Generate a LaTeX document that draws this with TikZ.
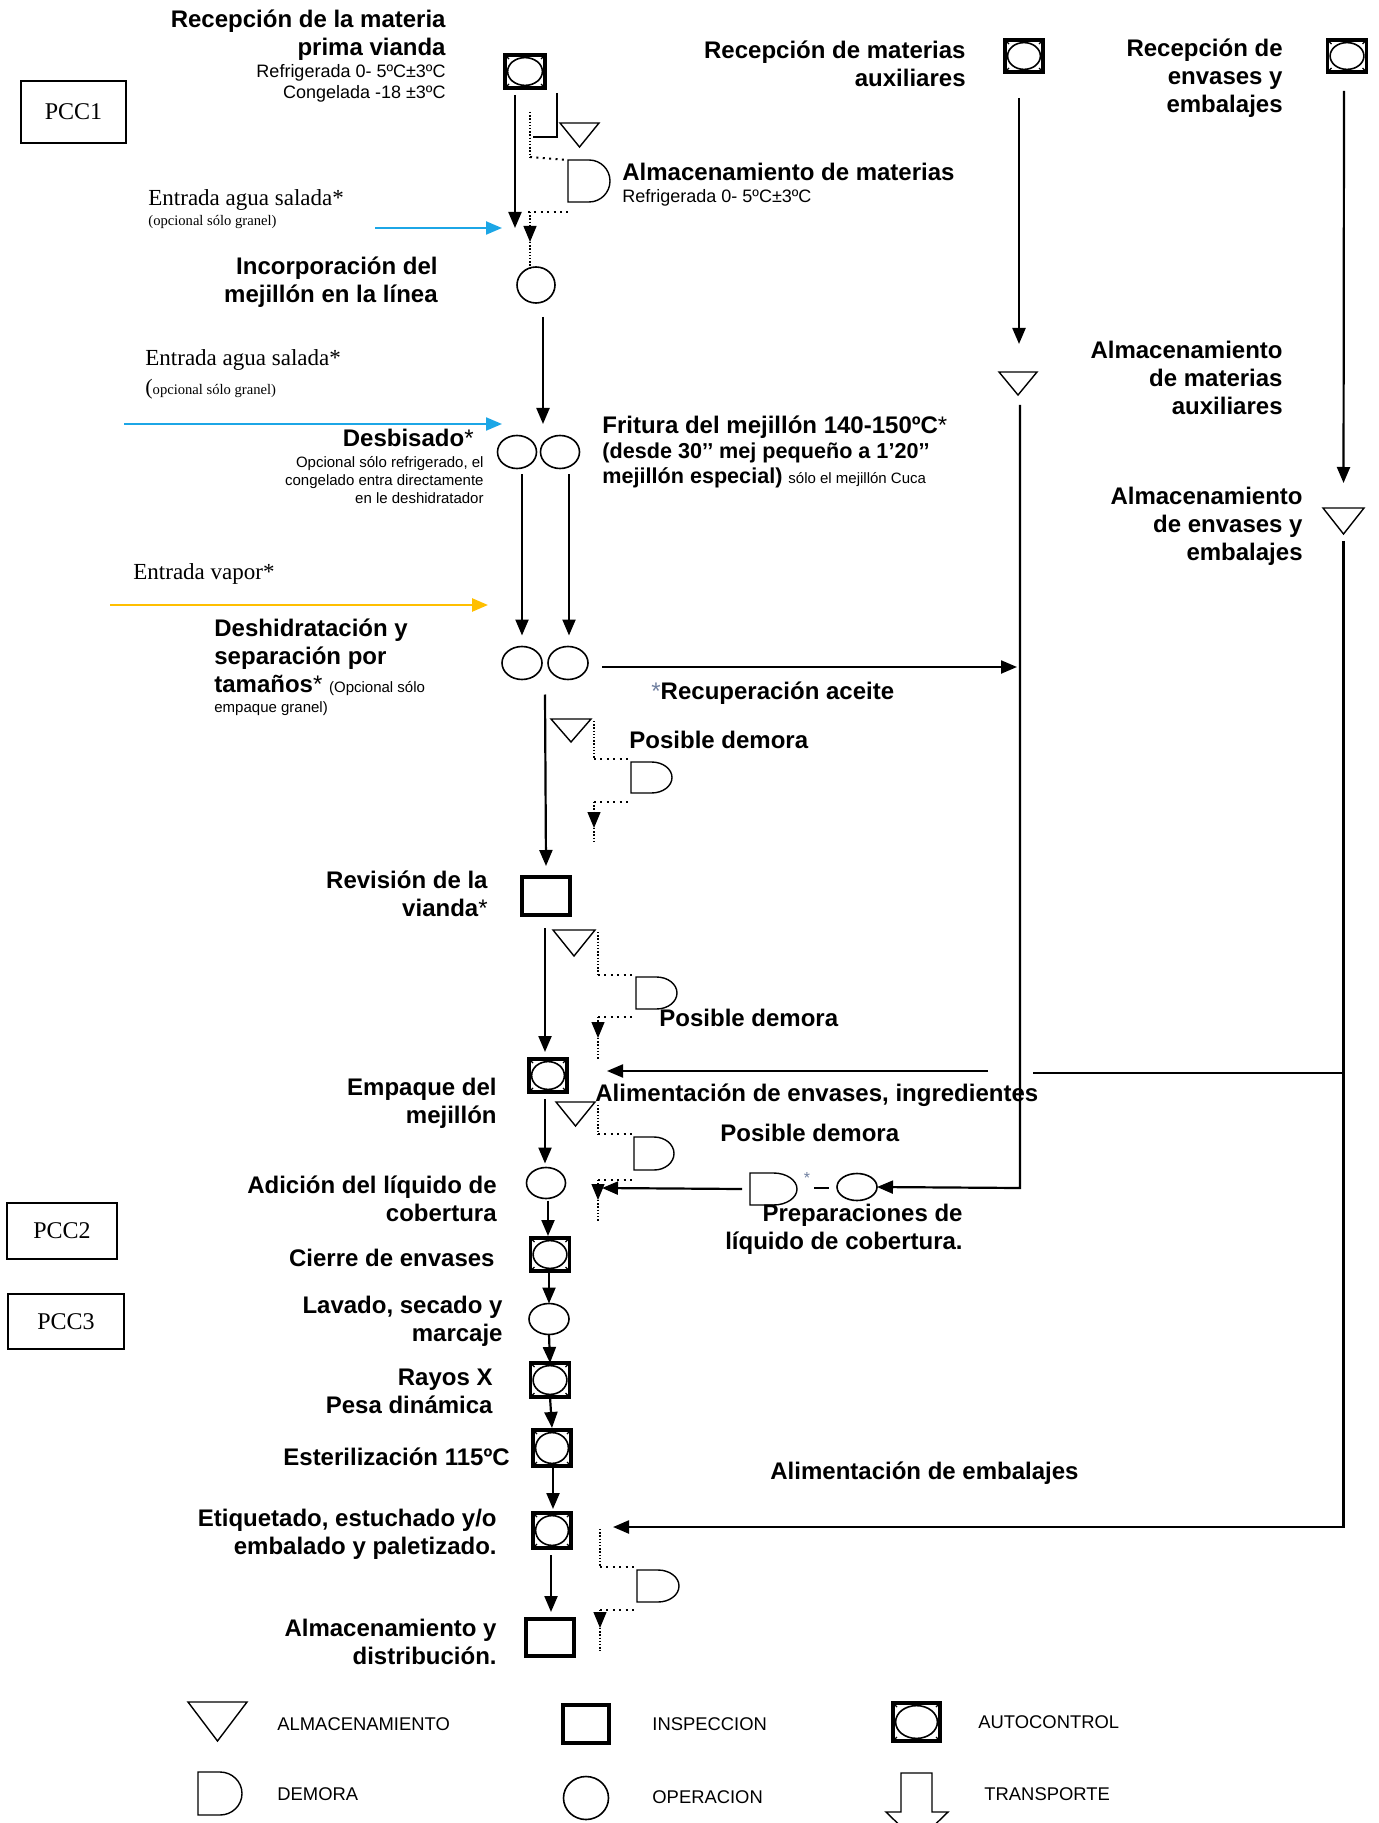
\documentclass[tikz,border=0pt]{standalone}
\usepackage{fontspec}
\setmainfont{Liberation Sans}
\newfontfamily\tnr{Liberation Serif}
\usetikzlibrary{arrows.meta,shapes.geometric,calc}
\definecolor{lblue}{HTML}{1CA6E6}
\definecolor{amber}{HTML}{FFBF00}
\definecolor{astgray}{HTML}{6F7F9F}

% autocontrol: name, cx, cy, w, h (px)
\newcommand\acnode[5]{%
  \node[acbox, minimum width={#4*0.5pt}, minimum height={#5*0.5pt}] (#1) at (#2,#3) {};
  \draw[line width=0.8pt] (#1.center) ellipse [x radius={#4*0.25pt-1.3pt}, y radius={#5*0.25pt-1.3pt}];
  \draw[line width=0.6pt] (#1.north west) -- ++(4,4) (#1.north east) -- ++(-4,4) (#1.south west) -- ++(4,-4) (#1.south east) -- ++(-4,-4);
}
% operation
\newcommand\opnode[5]{%
  \node[opshape, minimum width={#4*0.5pt}, minimum height={#5*0.5pt}] (#1) at (#2,#3) {};
}
% inspection
\newcommand\insnode[5]{%
  \node[insbox, minimum width={#4*0.5pt}, minimum height={#5*0.5pt}] (#1) at (#2,#3) {};
}
% storage triangle: name, x1,y1,x2,y2
\newcommand\stnode[5]{%
  \node[ghost, minimum width={(#4-#2)*0.5pt}, minimum height={(#5-#3)*0.5pt}] (#1) at ({(#2+#4)/2},{(#3+#5)/2}) {};
  \draw[line width=0.7pt, line join=miter] (#1.north west) -- (#1.north east) -- (#1.south) -- cycle;
}
% delay D: name, x1,y1,x2,y2
\newcommand\dlnode[5]{%
  \node[ghost, minimum width={(#4-#2)*0.5pt}, minimum height={(#5-#3)*0.5pt}] (#1) at ({(#2+#4)/2},{(#3+#5)/2}) {};
  \draw[line width=0.7pt] (#1.south) -- (#1.south west) -- (#1.north west) -- (#1.north) arc[start angle=90, end angle=-90, x radius={(#4-#2)*0.25pt}, y radius={(#5-#3)*0.25pt}];
}

\begin{document}
\begin{tikzpicture}[x=0.5pt,y=-0.5pt,
  lbl/.style={font=\bfseries\fontsize{12}{14}\selectfont, inner sep=0, align=right, anchor=east},
  lbll/.style={font=\bfseries\fontsize{12}{14}\selectfont, inner sep=0, align=left, anchor=west},
  smr/.style={font=\fontsize{9}{10.5}\selectfont, inner sep=0, align=right, anchor=east},
  sml/.style={font=\fontsize{9}{10.5}\selectfont, inner sep=0, align=left, anchor=west},
  ser/.style={font=\tnr\fontsize{11.5}{13}\selectfont, inner sep=0, anchor=west},
  sers/.style={font=\tnr\fontsize{7.3}{8}\selectfont, inner sep=0, anchor=west},
  leg/.style={font=\fontsize{9.2}{11}\selectfont, inner sep=0, anchor=west},
  pccbox/.style={draw, line width=1.1pt, inner sep=0, font=\tnr\fontsize{12}{14}\selectfont},
  acbox/.style={draw, line width=1.6pt, inner sep=0, outer sep=0, rectangle},
  opshape/.style={draw, ellipse, line width=0.8pt, inner sep=0, outer sep=0},
  insbox/.style={draw, rectangle, line width=1.6pt, inner sep=0, outer sep=0},
  ghost/.style={rectangle, inner sep=0, outer sep=0},
  arr/.style={line width=1.1pt, -{Triangle[length=8pt,width=6.5pt]}},
  vdot/.style={line width=0.6pt, dash pattern=on 0.7pt off 0.9pt},
  hdot/.style={line width=1pt, dash pattern=on 1pt off 2.2pt},
  dotarr/.style={vdot, -{Triangle[length=8pt,width=6.5pt]}},
]
\fill[white] (0,0) rectangle (1379,1823);
\useasboundingbox (0,0) rectangle (1379,1823);

% ---------------- PCC boxes
\node[pccbox, minimum width=52.5pt, minimum height=31pt] (pcc1) at (73.5,112) {PCC1};
\node[pccbox, minimum width=55pt, minimum height=28pt] (pcc2) at (62,1231) {PCC2};
\node[pccbox, minimum width=58pt, minimum height=27.5pt] (pcc3) at (66,1321.5) {PCC3};

% ---------------- main column shapes
\acnode{rmp}{525}{71.5}{40}{33}
\stnode{st0}{560}{123}{599}{147}
\dlnode{dl0}{568}{160}{610}{202}
\opnode{inc}{536}{285}{38}{36}
\opnode{des1}{517}{452}{39}{33}
\opnode{des2}{560}{452}{39}{33}
\opnode{dh1}{522}{663}{40}{33}
\opnode{dh2}{568}{663}{40}{33}
\stnode{st1}{551}{719}{591}{742}
\dlnode{dl1}{631}{762}{672}{793}
\insnode{rev}{546}{896}{48}{38}
\stnode{st2}{553}{930}{595}{956}
\dlnode{dl2}{636}{977}{677}{1009}
\acnode{emp}{548}{1075.5}{38}{33}
\stnode{st3}{556}{1102}{595}{1126}
\dlnode{dl3}{634}{1137}{674}{1170}
\opnode{adi}{546}{1183}{39}{31}
\acnode{cie}{550}{1254.5}{39}{33}
\opnode{lav}{549}{1319}{40}{31}
\acnode{ray}{550}{1380}{39}{34}
\acnode{est}{552}{1448}{38}{36}
\acnode{eti}{552}{1530.5}{38}{35}
\dlnode{dl5}{637}{1570}{679}{1602}
\insnode{alm}{550}{1637.5}{48}{37}

% preparaciones
\dlnode{dl4}{750}{1173}{797}{1205}
\opnode{prep}{857}{1187}{40}{27}
\node[font=\fontsize{8}{8}\selectfont, text=astgray, inner sep=0] (ast) at (807,1178) {*};
\draw[line width=0.6pt] (814,1188) -- (829,1188);

% middle / right columns
\acnode{raux}{1024}{56}{38}{32}
\stnode{mst}{999}{372}{1037}{395}
\acnode{renv}{1347}{56}{39}{32}
\stnode{rst}{1323}{508}{1364}{534}

% ---------------- main connectors
\coordinate (a1e) at (515,228);
\draw[arr] ([xshift=-5pt,yshift=-3.5pt]rmp.south) -- (a1e);
\draw[line width=1.1pt] (557,93) -- (557,137) -- (533,137);
\draw[vdot] (530,112) -- (530,157);
\draw[hdot] (530,157) -- (dl0.north west);
\coordinate (d0l) at (528,212);
\draw[hdot] (d0l) -- (568,212);
\coordinate (d0a) at (530,242);
\draw[dotarr] (530,212) -- (d0a);
\draw[vdot] (d0a) -- (530,268);

\coordinate (bw1) at (375,228);
\draw[arr, lblue] (bw1) -- (502,228);

\coordinate (desin) at (543,424);
\draw[arr] ([xshift=3.5pt,yshift=-7pt]inc.south) -- (desin);
\coordinate (bw2) at (124,424);
\draw[arr, lblue] (bw2) -- (502,424);

\draw[arr] ([xshift=2.5pt,yshift=-3pt]des1.south) -- ([yshift=5.5pt]dh1.north);
\draw[arr] ([xshift=4.5pt,yshift=-3pt]des2.south) -- ([xshift=0.5pt,yshift=5.5pt]dh2.north);

\coordinate (ow) at (110,605);
\draw[line width=1.3pt, amber, -{Triangle[length=8pt,width=6.5pt]}] (ow) -- (488,605);

\coordinate (recm) at (1017,667);
\draw[arr] ($(dh2.east)+(14,4)$) -- (recm);

\draw[arr] ($(dh1.south)!0.5!(dh2.south)+(0,15)$) -- ([yshift=5.5pt]rev.north);
% branch 1
\draw[vdot] (594,721) -- (594,759);
\draw[hdot] (594,759) -- (631,759);
\draw[hdot] (594,802) -- (631,802);
\coordinate (b1a) at (594,828);
\draw[dotarr] (594,802) -- (b1a);
\draw[vdot] (b1a) -- (594,843);

\draw[arr] ([xshift=-0.5pt,yshift=-6.5pt]rev.south) -- ([xshift=-1.5pt,yshift=3.5pt]emp.north);
% branch 2
\draw[vdot] (598,932) -- (598,975);
\draw[hdot] (598,975) -- (636,975);
\draw[hdot] (598,1017) -- (636,1017);
\coordinate (b2a) at (598,1038);
\draw[dotarr] (598,1017) -- (b2a);
\draw[vdot] (b2a) -- (598,1060);

% envases feed
\coordinate (envf) at (988,1071);
\coordinate (envt) at (607,1071);
\draw[arr] (envf) -- (envt);
\coordinate (envj) at (1033,1073);
\draw[line width=1.1pt] (envj) -- (rst.south |- envj);

\draw[arr] ([xshift=-1.5pt,yshift=-3.5pt]emp.south) -- ([xshift=-0.5pt,yshift=2pt]adi.north);
% branch 3
\draw[vdot] (598,1105) -- (598,1134);
\draw[hdot] (598,1134) -- (634,1134);
\draw[hdot] (598,1180) -- (634,1180);
\coordinate (b3a) at (598,1200);
\draw[dotarr] (598,1180) -- (b3a);
\draw[vdot] (b3a) -- (598,1221);

% preparaciones connectors
\coordinate (prepin) at (602,1188);
\draw[arr] ([xshift=-4pt]dl4.west) -- (prepin);
\draw[arr] ([xshift=1pt,yshift=-5pt]mst.south) -- (1020,1188) -- (prep.east);

\draw[arr] ([xshift=1pt,yshift=-1pt]adi.south) -- ([xshift=-1pt,yshift=1pt]cie.north);
\draw[arr] ([xshift=-0.5pt]cie.south) -- (lav.north);
\draw[arr] (lav.south) -- (ray.north);
\draw[arr] (ray.south) -- ([yshift=1pt]est.north);
\draw[arr] ([xshift=0.5pt]est.south) -- ([xshift=0.5pt,yshift=2pt]eti.north);
\draw[arr] ([xshift=-0.5pt,yshift=-3.5pt]eti.south) -- ([xshift=0.5pt,yshift=3.5pt]alm.north);
% branch 4
\draw[vdot] (600,1529) -- (600,1567);
\draw[hdot] (600,1567) -- (637,1567);
\draw[hdot] (600,1610) -- (637,1610);
\coordinate (b5a) at (600,1628);
\draw[dotarr] (600,1610) -- (b5a);
\draw[vdot] (b5a) -- (600,1651);

% middle column
\draw[arr] ([xshift=-2.5pt,yshift=-13pt]raux.south) -- ([xshift=0.5pt,yshift=14pt]mst.north);
% right column
\draw[arr] ([xshift=-1.5pt,yshift=-9.5pt]renv.south) -- ([yshift=12.5pt]rst.north);
\coordinate (embt) at (613,1527);
\draw[arr] ([yshift=-3.5pt]rst.south) -- (rst.south |- embt) -- (embt);

% ---------------- texts
\node[lbl] (t1) at (446,35) {Recepción de la materia\\prima vianda};
\node[smr] (t1b) at (446,83.5) {Refrigerada 0- 5ºC±3ºC\\Congelada -18 ±3ºC};
\node[lbll] (t2) at (622,172) {Almacenamiento de materias};
\node[sml] (t2b) at (622,198) {Refrigerada 0- 5ºC±3ºC};
\node[ser] (e1) at (148,200) {Entrada agua salada*};
\node[sers] (e1b) at (148,222) {(opcional sólo granel)};
\node[lbl] (t3) at (438,282) {Incorporación del\\mejillón en la línea};
\node[ser] (e2) at (145,360) {Entrada agua salada*};
\node[sers] (e2b) at (145,389) {{\fontsize{11}{11}\selectfont(}opcional sólo granel)};
\node[lbl] (t4) at (474,438) {Desbisado{\mdseries*}};
\node[font=\fontsize{7.5}{9}\selectfont, inner sep=0, align=right, anchor=east] (t4b) at (484,480) {Opcional sólo refrigerado, el\\congelado entra directamente\\en le deshidratador};
\node[lbll] (t5a) at (602,427) {Fritura del mejillón 140-150ºC{\mdseries*}};
\node[lbll, font=\bfseries\fontsize{10.8}{13}\selectfont] (t5b) at (602,453) {(desde 30’’ mej pequeño a 1’20’’};
\node[lbll, font=\bfseries\fontsize{10.8}{13}\selectfont] (t5c) at (602,478) {mejillón especial) {\mdseries\fontsize{7.5}{8}\selectfont sólo el mejillón Cuca}};
\node[ser] (e3) at (133,574) {Entrada vapor*};
\node[lbll] (t6) at (214,657) {Deshidratación y\\separación por\\tamaños{\mdseries*} {\mdseries\fontsize{7.5}{8}\selectfont(Opcional sólo}};
\node[font=\fontsize{7.5}{8}\selectfont, inner sep=0, anchor=west] (t6b) at (214,709) {empaque granel)};
\node[lbll] (t7) at (651,693) {{\mdseries\color{astgray}*}Recuperación aceite};
\node[lbll] (pd1) at (629,740) {Posible demora};
\node[lbl] (t8) at (488,894) {Revisión de la\\vianda{\mdseries*}};
\node[lbll] (pd2) at (659,1018) {Posible demora};
\node[lbl] (t9) at (497,1103) {Empaque del\\mejillón};
\node[lbll] (t10) at (595,1095) {Alimentación de envases, ingredientes};
\node[lbll] (pd3) at (720,1133) {Posible demora};
\node[lbl] (t11) at (497,1199) {Adición del líquido de\\cobertura};
\node[lbl] (t12) at (963,1229) {Preparaciones de\\líquido de cobertura.};
\node[lbl] (t13) at (495,1258) {Cierre de envases};
\node[lbl] (t14) at (503,1321) {Lavado, secado y\\marcaje};
\node[lbl] (t15) at (493,1391) {Rayos X\\Pesa dinámica};
\node[lbl] (t16) at (510,1457) {Esterilización 115ºC};
\node[lbll] (t17) at (770,1473) {Alimentación de embalajes};
\node[lbl] (t18) at (497,1534) {Etiquetado, estuchado y/o\\embalado y paletizado.};
\node[lbl] (t19) at (497,1642) {Almacenamiento y\\distribución.};
\node[lbl] (t20) at (966,63.5) {Recepción de materias\\auxiliares};
\node[lbl] (t21) at (1283,78) {Recepción de\\envases y\\embalajes};
\node[lbl] (t22) at (1283,378) {Almacenamiento\\de materias\\auxiliares};
\node[lbl] (t23) at (1303,526) {Almacenamiento\\de envases y\\embalajes};

% ---------------- legend
\stnode{lg1}{188}{1702}{247}{1741}
\node[leg] (lt1) at (277,1724) {ALMACENAMIENTO};
\insnode{lg2}{586}{1724}{46}{38}
\node[leg] (lt2) at (652,1724) {INSPECCION};
\acnode{lg3}{916.5}{1722}{47}{38}
\node[leg] (lt3) at (978,1722) {AUTOCONTROL};
\dlnode{lg4}{198}{1772}{242}{1815}
\node[leg] (lt4) at (277,1794) {DEMORA};
\opnode{lg5}{586}{1798}{45}{43}
\node[leg] (lt5) at (652,1797) {OPERACION};
\node[ghost, minimum width=31pt, minimum height=26pt] (lg6) at (917,1797) {};
\draw[line width=0.7pt] (901,1773) -- (932,1773) -- (932,1812) -- (948,1812) -- (917,1842) -- (886,1812) -- (901,1812) -- cycle;
\node[leg] (lt6) at (984,1794) {TRANSPORTE};
\end{tikzpicture}
\end{document}
